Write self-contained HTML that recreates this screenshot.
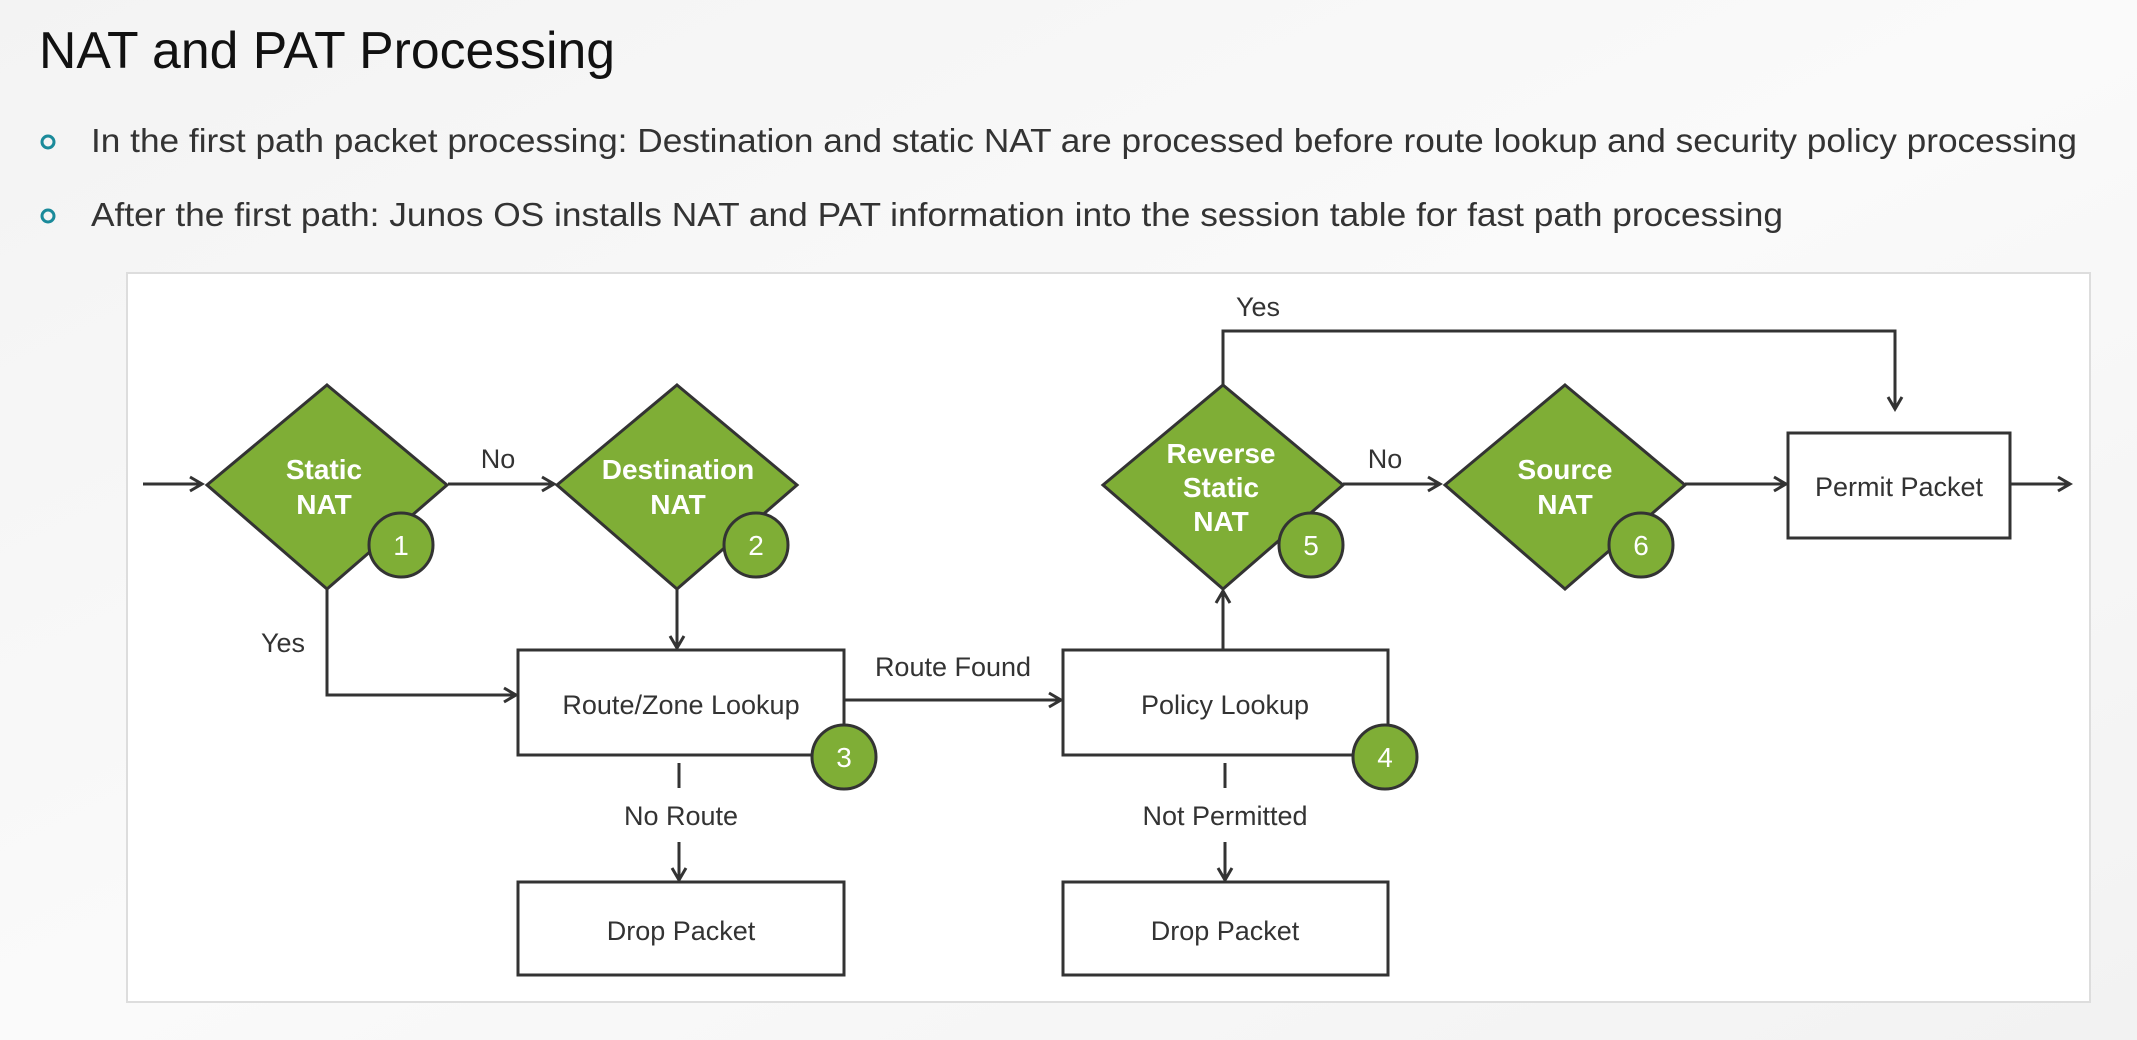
<!DOCTYPE html>
<html><head><meta charset="utf-8"><style>
html,body{margin:0;padding:0;width:2137px;height:1040px;overflow:hidden;background:#f6f6f6;}
svg{display:block;font-family:"Liberation Sans",sans-serif;}
</style></head><body>
<svg width="2137" height="1040" viewBox="0 0 2137 1040" xmlns="http://www.w3.org/2000/svg">
<defs>
<marker id="a" markerWidth="18" markerHeight="18" refX="14" refY="9" orient="auto" markerUnits="userSpaceOnUse">
<path d="M2,2 L14,9 L2,16" fill="none" stroke="#333" stroke-width="3"/>
</marker>
<linearGradient id="bg" x1="0" y1="0" x2="1" y2="1">
<stop offset="0" stop-color="#f3f3f3"/><stop offset="0.5" stop-color="#fafafa"/><stop offset="1" stop-color="#f2f2f2"/>
</linearGradient>
</defs>
<rect width="2137" height="1040" fill="url(#bg)"/>
<text x="39" y="68" font-size="52" fill="#111" textLength="576" lengthAdjust="spacingAndGlyphs">NAT and PAT Processing</text>
<circle cx="48" cy="142" r="6" fill="none" stroke="#1a8a9a" stroke-width="3"/>
<circle cx="48" cy="216" r="6" fill="none" stroke="#1a8a9a" stroke-width="3"/>
<text x="91" y="152" font-size="33" fill="#333" textLength="1986" lengthAdjust="spacingAndGlyphs">In the first path packet processing: Destination and static NAT are processed before route lookup and security policy processing</text>
<text x="91" y="226" font-size="33" fill="#333" textLength="1692" lengthAdjust="spacingAndGlyphs">After the first path: Junos OS installs NAT and PAT information into the session table for fast path processing</text>
<rect x="127" y="273" width="1963" height="729" fill="#fff" stroke="#ddd" stroke-width="2"/>
<g stroke="#333" stroke-width="3" fill="none">
<line x1="143" y1="484" x2="202" y2="484" marker-end="url(#a)"/>
<line x1="448" y1="484" x2="554" y2="484" marker-end="url(#a)"/>
<line x1="677" y1="589" x2="677" y2="648" marker-end="url(#a)"/>
<polyline points="327,589 327,695 516,695" marker-end="url(#a)"/>
<line x1="844" y1="700" x2="1061" y2="700" marker-end="url(#a)"/>
<line x1="1223" y1="650" x2="1223" y2="591" marker-end="url(#a)"/>
<polyline points="1223,386 1223,331 1895,331 1895,409" marker-end="url(#a)"/>
<line x1="1343" y1="484" x2="1440" y2="484" marker-end="url(#a)"/>
<line x1="1685" y1="484" x2="1786" y2="484" marker-end="url(#a)"/>
<line x1="2010" y1="484" x2="2070" y2="484" marker-end="url(#a)"/>
<line x1="679" y1="763" x2="679" y2="788"/>
<line x1="679" y1="842" x2="679" y2="880" marker-end="url(#a)"/>
<line x1="1225" y1="763" x2="1225" y2="788"/>
<line x1="1225" y1="842" x2="1225" y2="880" marker-end="url(#a)"/>
</g>
<g fill="#7fae36" stroke="#333" stroke-width="3">
<polygon points="327,385 447,485 327,589 207,485"/>
<polygon points="677,385 797,485 677,589 557,485"/>
<polygon points="1223,385 1343,485 1223,589 1103,485"/>
<polygon points="1565,385 1685,485 1565,589 1445,485"/>
</g>
<g fill="#fff" stroke="#333" stroke-width="3">
<rect x="1788" y="433" width="222" height="105"/>
<rect x="518" y="650" width="326" height="105"/>
<rect x="1063" y="650" width="325" height="105"/>
<rect x="518" y="882" width="326" height="93"/>
<rect x="1063" y="882" width="325" height="93"/>
</g>
<g fill="#7fae36" stroke="#333" stroke-width="3">
<circle cx="401" cy="545" r="32"/>
<circle cx="756" cy="545" r="32"/>
<circle cx="1311" cy="545" r="32"/>
<circle cx="1641" cy="545" r="32"/>
<circle cx="844" cy="757" r="32"/>
<circle cx="1385" cy="757" r="32"/>
</g>
<g fill="#fff" font-size="28" text-anchor="middle">
<text x="401" y="555">1</text><text x="756" y="555">2</text><text x="1311" y="555">5</text>
<text x="1641" y="555">6</text><text x="844" y="767">3</text><text x="1385" y="767">4</text>
</g>
<g fill="#fff" font-size="28" font-weight="bold" text-anchor="middle">
<text x="324" y="479">Static</text><text x="324" y="514">NAT</text>
<text x="678" y="479">Destination</text><text x="678" y="514">NAT</text>
<text x="1221" y="463">Reverse</text><text x="1221" y="497">Static</text><text x="1221" y="531">NAT</text>
<text x="1565" y="479">Source</text><text x="1565" y="514">NAT</text>
</g>
<g fill="#333" font-size="27" text-anchor="middle">
<text x="1899" y="496">Permit Packet</text>
<text x="681" y="714">Route/Zone Lookup</text>
<text x="1225" y="714">Policy Lookup</text>
<text x="681" y="940">Drop Packet</text>
<text x="1225" y="940">Drop Packet</text>
<text x="681" y="825">No Route</text>
<text x="1225" y="825">Not Permitted</text>
<text x="953" y="676">Route Found</text>
<text x="498" y="468">No</text>
<text x="1385" y="468">No</text>
<text x="283" y="652">Yes</text>
<text x="1258" y="316">Yes</text>
</g>
</svg>
</body></html>
